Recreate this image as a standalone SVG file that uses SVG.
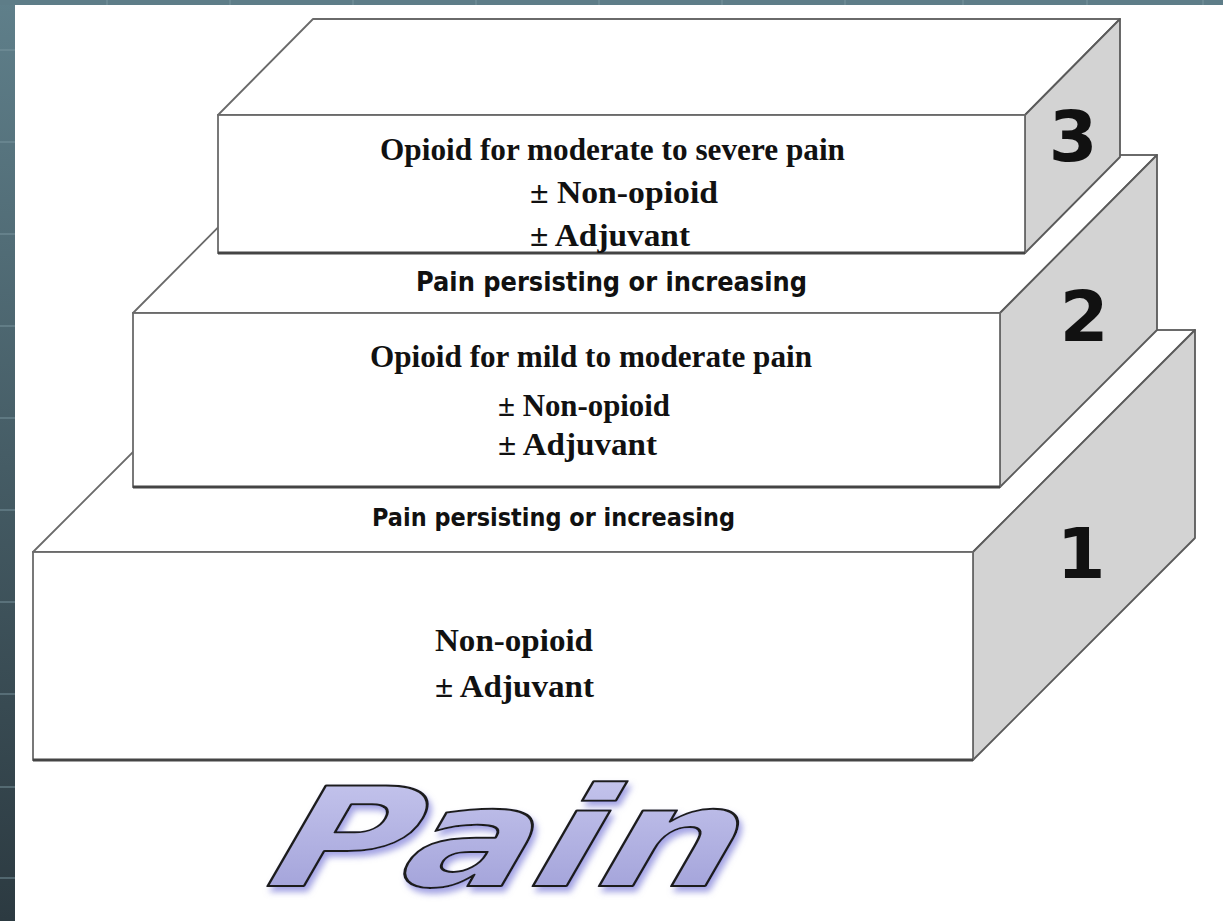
<svg xmlns="http://www.w3.org/2000/svg" width="1223" height="921" viewBox="0 0 1223 921">
  <defs>
    <linearGradient id="strip" x1="0" y1="0" x2="0" y2="1">
      <stop offset="0" stop-color="#5f7f8a"/>
      <stop offset="1" stop-color="#2c3a41"/>
    </linearGradient>
    <linearGradient id="logoFill" x1="0" y1="0" x2="0" y2="1">
      <stop offset="0" stop-color="#c9c9ef"/>
      <stop offset="1" stop-color="#9c9cd6"/>
    </linearGradient>
    <filter id="logoShadow" x="-10%" y="-20%" width="130%" height="150%">
      <feGaussianBlur in="SourceAlpha" stdDeviation="3"/>
      <feOffset dx="3" dy="5" result="b"/>
      <feFlood flood-color="#7c7cd8" flood-opacity="0.7"/>
      <feComposite in2="b" operator="in"/>
      <feMerge><feMergeNode/><feMergeNode in="SourceGraphic"/></feMerge>
    </filter>
  </defs>
  <style>
    .face { fill: #ffffff; stroke: #6a6a6a; stroke-width: 1.8; stroke-linejoin: round; }
    .side { fill: #d3d3d3; stroke: #5a5a5a; stroke-width: 1.8; stroke-linejoin: round; }
    .front { fill: #ffffff; stroke: #6a6a6a; stroke-width: 1.8; }
    .base { stroke: #444; stroke-width: 3; }
    .serif { font-family: "Liberation Serif", "Times New Roman", serif; font-weight: bold; font-size: 31px; fill: #111; }
    .comic { font-family: "Comic Sans MS", "DejaVu Sans", sans-serif; font-weight: bold; fill: #111; }
    .num { font-family: "DejaVu Sans", "Liberation Sans", sans-serif; font-weight: bold; font-size: 70px; fill: #111; text-anchor: middle; }
    .grid { stroke: #7c98a2; stroke-width: 2; opacity: 0.45; }
  </style>

  <!-- background -->
  <rect x="0" y="0" width="1223" height="921" fill="#ffffff"/>
  <rect x="0" y="0" width="15" height="921" fill="url(#strip)"/>
  <rect x="0" y="0" width="1223" height="5" fill="#5e7d88"/>
  <g id="bg-grid">
    <line class="grid" x1="0" y1="50" x2="15" y2="50"/>
    <line class="grid" x1="0" y1="142" x2="15" y2="142"/>
    <line class="grid" x1="0" y1="234" x2="15" y2="234"/>
    <line class="grid" x1="0" y1="326" x2="15" y2="326"/>
    <line class="grid" x1="0" y1="418" x2="15" y2="418"/>
    <line class="grid" x1="0" y1="510" x2="15" y2="510"/>
    <line class="grid" x1="0" y1="602" x2="15" y2="602"/>
    <line class="grid" x1="0" y1="694" x2="15" y2="694"/>
    <line class="grid" x1="0" y1="787" x2="15" y2="787"/>
    <line class="grid" x1="0" y1="878" x2="15" y2="878"/>
    <line class="grid" x1="107" y1="0" x2="107" y2="5"/>
    <line class="grid" x1="230" y1="0" x2="230" y2="5"/>
    <line class="grid" x1="353" y1="0" x2="353" y2="5"/>
    <line class="grid" x1="476" y1="0" x2="476" y2="5"/>
    <line class="grid" x1="599" y1="0" x2="599" y2="5"/>
    <line class="grid" x1="722" y1="0" x2="722" y2="5"/>
    <line class="grid" x1="845" y1="0" x2="845" y2="5"/>
    <line class="grid" x1="963" y1="0" x2="963" y2="5"/>
    <line class="grid" x1="1087" y1="0" x2="1087" y2="5"/>
    <line class="grid" x1="1203" y1="0" x2="1203" y2="5"/>
  </g>

  <!-- Step 1 -->
  <g id="step1">
    <polygon class="face" points="33,552 973,552 1195,330 255,330"/>
    <polygon class="side" points="973,552 1195,330 1195,538 973,760"/>
    <rect class="front" x="33" y="552" width="940" height="208"/>
    <line class="base" x1="33" y1="760" x2="973" y2="760"/>
    <text class="num" x="1081" y="578">1</text>
    <text class="serif" x="435" y="651" textLength="158" lengthAdjust="spacingAndGlyphs">Non-opioid</text>
    <text class="serif" x="435" y="697" textLength="159" lengthAdjust="spacingAndGlyphs">± Adjuvant</text>
    <text class="comic" x="372" y="526" font-size="25" textLength="363" lengthAdjust="spacingAndGlyphs">Pain persisting or increasing</text>
  </g>

  <!-- Step 2 -->
  <g id="step2">
    <polygon class="face" points="133,313 1000,313 1157,155 290,155"/>
    <polygon class="side" points="1000,313 1157,155 1157,330 1000,487"/>
    <rect class="front" x="133" y="313" width="867" height="174"/>
    <line class="base" x1="133" y1="487" x2="1000" y2="487"/>
    <text class="num" x="1084" y="341">2</text>
    <text class="serif" x="370" y="367" textLength="442" lengthAdjust="spacingAndGlyphs">Opioid for mild to moderate pain</text>
    <text class="serif" x="498" y="416" textLength="172" lengthAdjust="spacingAndGlyphs">± Non-opioid</text>
    <text class="serif" x="498" y="455" textLength="159" lengthAdjust="spacingAndGlyphs">± Adjuvant</text>
    <text class="comic" x="416" y="291" font-size="26" textLength="391" lengthAdjust="spacingAndGlyphs">Pain persisting or increasing</text>
  </g>

  <!-- Step 3 -->
  <g id="step3">
    <polygon class="face" points="218,115 1025,115 1120,19 313,19"/>
    <polygon class="side" points="1025,115 1120,19 1120,157 1025,253"/>
    <rect class="front" x="218" y="115" width="807" height="138"/>
    <line class="base" x1="218" y1="253" x2="1025" y2="253"/>
    <text class="num" x="1073" y="161">3</text>
    <text class="serif" x="380" y="160" textLength="465" lengthAdjust="spacingAndGlyphs">Opioid for moderate to severe pain</text>
    <text class="serif" x="530" y="203" textLength="188" lengthAdjust="spacingAndGlyphs">± Non-opioid</text>
    <text class="serif" x="530" y="246" textLength="160" lengthAdjust="spacingAndGlyphs">± Adjuvant</text>
  </g>

  <!-- Logo -->
  <g id="logo" filter="url(#logoShadow)">
    <text x="0" y="0" transform="translate(250,886) skewX(-30) scale(1.4,1)" font-family="DejaVu Sans, Liberation Sans, sans-serif" font-weight="bold" font-size="138" fill="url(#logoFill)" stroke="#1e1e1e" stroke-width="2" stroke-linejoin="round">Pain</text>
  </g>
</svg>
